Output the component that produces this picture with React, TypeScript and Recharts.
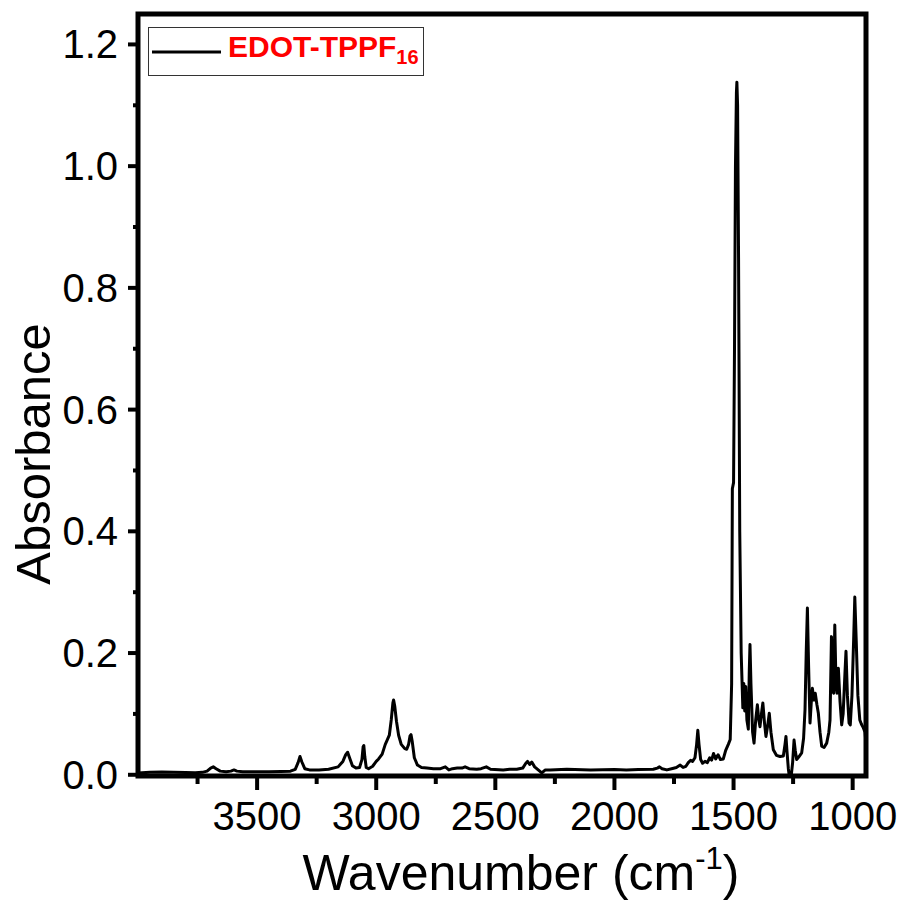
import React from 'react';
import { LineChart, Line, XAxis, YAxis, ReferenceArea, Legend } from 'recharts';

const wavenumbers = [
  4000, 3950, 3900, 3850, 3800, 3760, 3730, 3710, 3695, 3684, 3672, 3655, 3630, 3610, 3597, 3585, 3560, 3500, 3450, 3400,
  3360, 3340, 3328, 3320, 3312, 3300, 3280, 3240, 3200, 3160, 3140, 3128, 3120, 3112, 3100, 3085, 3070, 3060, 3055, 3052,
  3048, 3042, 3032, 3015, 3000, 2990, 2975, 2962, 2955, 2945, 2937, 2930, 2927, 2922, 2915, 2906, 2895, 2880, 2872, 2864,
  2858, 2854, 2849, 2840, 2827, 2810, 2787, 2760, 2730, 2710, 2695, 2680, 2660, 2640, 2627, 2610, 2578, 2560, 2538, 2520,
  2467, 2440, 2410, 2385, 2372, 2365, 2356, 2347, 2335, 2320, 2305, 2290, 2270, 2200, 2100, 2000, 1950, 1900, 1837, 1820,
  1811, 1800, 1780, 1760, 1740, 1724, 1712, 1700, 1690, 1680, 1672, 1662, 1655, 1650, 1645, 1638, 1630, 1620, 1610, 1600,
  1592, 1584, 1575, 1565, 1555, 1543, 1533, 1522, 1514, 1508, 1505, 1500, 1496, 1492, 1488, 1486, 1483, 1479, 1474, 1468,
  1461, 1457, 1453, 1449, 1444, 1438, 1434, 1431, 1427, 1420, 1414, 1407, 1400, 1394, 1389, 1383, 1377, 1370, 1364, 1357,
  1350, 1343, 1333, 1320, 1305, 1291, 1284, 1280, 1276, 1270, 1266, 1258, 1252, 1246, 1241, 1235, 1225, 1214, 1206, 1200,
  1195, 1190, 1185, 1179, 1172, 1169, 1163, 1157, 1150, 1144, 1137, 1130, 1120, 1109, 1100, 1095, 1089, 1084, 1080, 1075,
  1070, 1066, 1060, 1053, 1046, 1040, 1032, 1028, 1022, 1015, 1010, 1003, 996, 991, 985, 978, 970, 963, 955, 948,
  944,
];

const absorbance = [
  0.003, 0.004, 0.0045, 0.004, 0.0038, 0.0035, 0.004, 0.006, 0.011, 0.013, 0.01, 0.006, 0.005, 0.006, 0.008, 0.006, 0.005, 0.005, 0.005, 0.0055,
  0.006, 0.009, 0.02, 0.03, 0.021, 0.01, 0.008, 0.008, 0.009, 0.013, 0.022, 0.033, 0.037, 0.028, 0.015, 0.011, 0.012, 0.025, 0.046, 0.048,
  0.03, 0.012, 0.01, 0.014, 0.022, 0.026, 0.034, 0.05, 0.056, 0.065, 0.09, 0.118, 0.123, 0.112, 0.088, 0.065, 0.05, 0.043, 0.042, 0.05,
  0.064, 0.066, 0.055, 0.028, 0.016, 0.012, 0.011, 0.01, 0.01, 0.013, 0.008, 0.01, 0.011, 0.011, 0.013, 0.01, 0.009, 0.01, 0.013, 0.009,
  0.008, 0.009, 0.009, 0.011, 0.019, 0.022, 0.017, 0.021, 0.013, 0.008, 0.003, 0.008, 0.008, 0.009, 0.008, 0.0085, 0.008, 0.0085, 0.009, 0.011,
  0.013, 0.01, 0.008, 0.01, 0.012, 0.016, 0.012, 0.014, 0.02, 0.024, 0.022, 0.028, 0.05, 0.073, 0.05, 0.025, 0.019, 0.022, 0.02, 0.028,
  0.024, 0.035, 0.026, 0.033, 0.025, 0.026, 0.04, 0.05, 0.058, 0.15, 0.47, 0.48, 0.7, 1.0, 1.12, 1.138, 1.1, 0.85, 0.4, 0.2,
  0.11, 0.15, 0.105, 0.145, 0.09, 0.075, 0.17, 0.214, 0.15, 0.07, 0.052, 0.09, 0.115, 0.09, 0.079, 0.1, 0.118, 0.085, 0.063, 0.08,
  0.101, 0.07, 0.041, 0.032, 0.03, 0.031, 0.05, 0.063, 0.04, 0.01, -0.002, -0.002, 0.02, 0.057, 0.04, 0.025, 0.03, 0.036, 0.06, 0.107,
  0.2, 0.274, 0.18, 0.085, 0.13, 0.142, 0.123, 0.134, 0.115, 0.101, 0.07, 0.047, 0.045, 0.052, 0.07, 0.09, 0.227, 0.14, 0.134, 0.246,
  0.15, 0.134, 0.175, 0.12, 0.082, 0.1, 0.17, 0.203, 0.13, 0.085, 0.082, 0.13, 0.22, 0.292, 0.22, 0.13, 0.09, 0.083, 0.077, 0.07,
  0.05,
];

const xTicks = [1000, 1250, 1500, 1750, 2000, 2250, 2500, 2750, 3000, 3250, 3500, 3750];
const yTicks = [0, 0.1, 0.2, 0.3, 0.4, 0.5, 0.6, 0.7, 0.8, 0.9, 1.0, 1.1, 1.2];
const xDomain = [944, 4000];
const yDomain = [-0.002, 1.25];
const seriesName = 'EDOT-TPPF';
const seriesSub = '16';

const data = wavenumbers.map((w, i) => ({ wn: w, a: absorbance[i] }));

const FONT = '"Liberation Sans", Arial, Helvetica, sans-serif';
const X_TS = 14;
const X_TM = 10;
const Y_TS = 10;
const Y_TM = 10;

const XTick = (props: any) => {
  const { x, y, payload } = props;
  const v = payload.value;
  const axisY = y - X_TS - X_TM;
  const major = v % 500 === 0;
  return (
    <g>
      <line x1={x} x2={x} y1={axisY} y2={axisY + (major ? 14 : 8)} stroke="#000" strokeWidth={4} />
      {major && (
        <text x={x} y={axisY + 54} textAnchor="middle" fontSize={40} fontFamily={FONT} fill="#000">
          {v}
        </text>
      )}
    </g>
  );
};

const YTick = (props: any) => {
  const { x, y, payload } = props;
  const v = payload.value;
  const axisX = x + Y_TS + Y_TM;
  const major = Math.round(v * 10) % 2 === 0;
  return (
    <g>
      <line x1={axisX} x2={axisX - (major ? 10 : 5)} y1={y} y2={y} stroke="#000" strokeWidth={4} />
      {major && (
        <text x={axisX - 20} y={y + 14} textAnchor="end" fontSize={40} fontFamily={FONT} fill="#000">
          {v.toFixed(1)}
        </text>
      )}
    </g>
  );
};

const XTitle = (props: any) => {
  const vb = props.viewBox || {};
  const cx = vb.x + vb.width / 2 + 19;
  return (
    <text x={cx} y={890} textAnchor="middle" fontSize={50} fontFamily={FONT} fill="#000">
      <tspan>Wavenumber (cm</tspan>
      <tspan fontSize={31} dy={-21}>-1</tspan>
      <tspan dy={21}>)</tspan>
    </text>
  );
};

const YTitle = () => {
  const x = 50;
  const y = 454;
  return (
    <text x={x} y={y} transform={`rotate(-90, ${x}, ${y})`} textAnchor="middle" fontSize={49} fontFamily={FONT} fill="#000">
      Absorbance
    </text>
  );
};

const LegendBox = () => (
  <div
    style={{
      width: 276,
      height: 49,
      boxSizing: 'border-box',
      border: '1.5px solid #333',
      background: '#fff',
      display: 'flex',
      alignItems: 'center',
      fontFamily: FONT,
    }}
  >
    <svg width={74} height={6} style={{ marginLeft: 2 }}>
      <line x1={1} x2={70} y1={3} y2={3} stroke="#000" strokeWidth={3} />
    </svg>
    <span style={{ color: '#ff0000', fontWeight: 'bold', fontSize: 30, lineHeight: '30px', marginLeft: 3, whiteSpace: 'nowrap' }}>
      {seriesName}
      <sub style={{ fontSize: 20, verticalAlign: -7 }}>{seriesSub}</sub>
    </span>
  </div>
);

export default function App() {
  return (
    <div style={{ position: 'absolute', left: 0, top: 0, width: 905, height: 905, background: '#fff', overflow: 'hidden' }}>
      <LineChart width={905} height={905} data={data} margin={{ top: 14, right: 39, left: 0, bottom: 0 }}>
        <XAxis
          dataKey="wn"
          type="number"
          domain={xDomain}
          reversed
          allowDataOverflow
          ticks={xTicks}
          interval={0}
          tickSize={X_TS}
          tickMargin={X_TM}
          tickLine={false}
          axisLine={false}
          tick={<XTick />}
          height={129}
          label={<XTitle />}
        />
        <YAxis
          type="number"
          domain={yDomain}
          allowDataOverflow
          ticks={yTicks}
          interval={0}
          tickSize={Y_TS}
          tickMargin={Y_TM}
          tickLine={false}
          axisLine={false}
          tick={<YTick />}
          width={138}
          label={<YTitle />}
        />
        <Legend
          layout="vertical"
          align="center"
          verticalAlign="middle"
          wrapperStyle={{ left: 148, top: 27, width: 276, height: 49 }}
          content={<LegendBox />}
        />
        <Line
          type="linear"
          dataKey="a"
          name={seriesName}
          stroke="#000"
          strokeWidth={3}
          strokeLinejoin="round"
          dot={false}
          isAnimationActive={false}
        />
        <ReferenceArea
          x1={xDomain[0]}
          x2={xDomain[1]}
          y1={yDomain[0]}
          y2={yDomain[1]}
          fill="none"
          stroke="#000"
          strokeWidth={5}
        />
      </LineChart>
    </div>
  );
}
